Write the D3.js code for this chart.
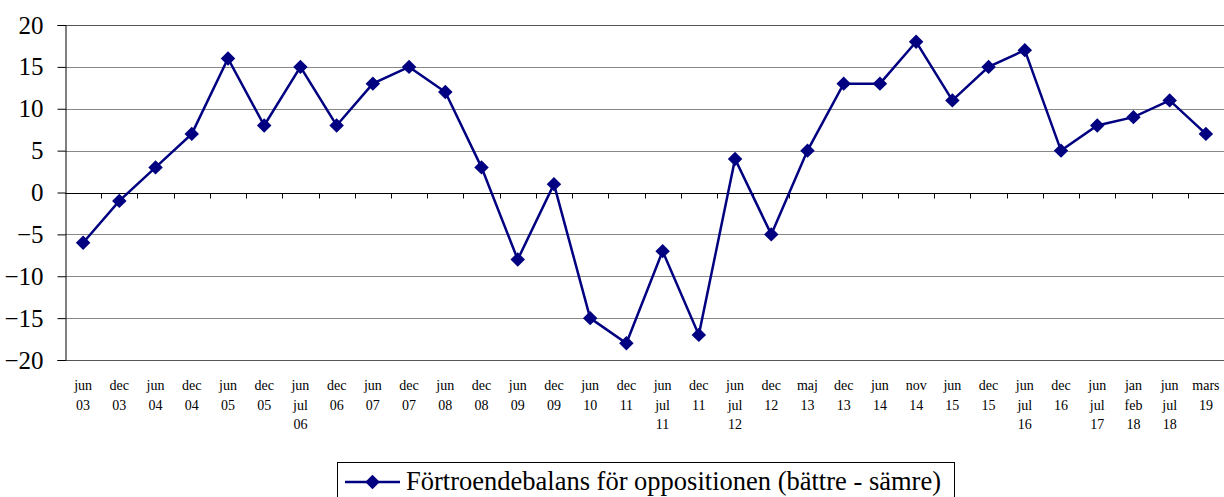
<!DOCTYPE html>
<html>
<head>
<meta charset="utf-8">
<script src="https://cdn.jsdelivr.net/npm/d3@7"></script>
<style>
  body { margin: 0; background: #fff; }
  svg { display: block; }
</style>
</head>
<body>
<svg id="chart" width="1224" height="497"></svg>
<script>
// category labels, each entry is the list of lines under the tick
const labels = [
  ["jun", "03"], ["dec", "03"], ["jun", "04"], ["dec", "04"], ["jun", "05"],
  ["dec", "05"], ["jun", "jul", "06"], ["dec", "06"], ["jun", "07"], ["dec", "07"],
  ["jun", "08"], ["dec", "08"], ["jun", "09"], ["dec", "09"], ["jun", "10"],
  ["dec", "11"], ["jun", "jul", "11"], ["dec", "11"], ["jun", "jul", "12"], ["dec", "12"],
  ["maj", "13"], ["dec", "13"], ["jun", "14"], ["nov", "14"], ["jun", "15"],
  ["dec", "15"], ["jun", "jul", "16"], ["dec", "16"], ["jun", "jul", "17"], ["jan", "feb", "18"],
  ["jun", "jul", "18"], ["mars", "19"]
];
const values = [-6, -1, 3, 7, 16, 8, 15, 8, 13, 15, 12, 3, -8, 1, -15, -18, -7, -17, 4, -5,
                5, 13, 13, 18, 11, 15, 17, 5, 8, 9, 11, 7];
const yTicks = [-20, -15, -10, -5, 0, 5, 10, 15, 20];
const seriesName = "Förtroendebalans för oppositionen (bättre - sämre)";

const svg = d3.select("#chart");
const plotLeft = 65, plotRight = 1224, plotTop = 25, plotBottom = 360;
const font = "Liberation Serif";
const navy = "#000080";

const x = d3.scaleBand()
    .domain(d3.range(values.length))
    .range([plotLeft, plotRight]);

const y = d3.scaleLinear()
    .domain([-20, 20])
    .range([plotBottom, plotTop]);

// gridlines
svg.append("g")
    .selectAll("line")
    .data(yTicks.filter(d => d !== 0))
    .join("line")
    .attr("x1", plotLeft)
    .attr("x2", plotRight)
    .attr("y1", d => Math.round(y(d)) + 0.5)
    .attr("y2", d => Math.round(y(d)) + 0.5)
    .attr("stroke", d => (d === 20 || d === -20) ? "#555" : "#888")
    .attr("stroke-width", 1);

// y axis
const yAxis = svg.append("g")
    .attr("transform", "translate(" + (plotLeft + 0.5) + ",0)")
    .call(d3.axisLeft(y).tickValues(yTicks).tickSize(8).tickPadding(14))
    .attr("font-family", font)
    .attr("font-size", 25);
yAxis.select(".domain").attr("stroke", "#000");
yAxis.selectAll(".tick line").attr("stroke", "#000");
yAxis.selectAll("text")
    .style("font-family", font)
    .style("font-size", "25px")
    .attr("fill", "#000");

// zero line with category ticks
const zeroY = Math.round(y(0)) + 0.5;
svg.append("line")
    .attr("x1", plotLeft)
    .attr("x2", plotRight)
    .attr("y1", zeroY)
    .attr("y2", zeroY)
    .attr("stroke", "#000");

svg.append("g")
    .selectAll("line")
    .data(d3.range(1, values.length))
    .join("line")
    .attr("x1", d => Math.round(x(d)) + 0.5)
    .attr("x2", d => Math.round(x(d)) + 0.5)
    .attr("y1", zeroY)
    .attr("y2", zeroY + 5)
    .attr("stroke", "#000");

// x labels
const lab = svg.append("g");
labels.forEach(function(lines, i) {
    const t = lab.append("text")
        .attr("text-anchor", "middle")
        .style("font-family", font)
        .style("font-size", "14px")
        .attr("fill", "#000");
    lines.forEach(function(s, k) {
        t.append("tspan")
            .attr("x", x(i) + x.bandwidth() / 2)
            .attr("y", 390 + k * 19.6)
            .text(s);
    });
});

// series line
const line = d3.line()
    .x((d, i) => x(i) + x.bandwidth() / 2)
    .y(d => y(d));

svg.append("path")
    .datum(values)
    .attr("d", line)
    .attr("fill", "none")
    .attr("stroke", navy)
    .attr("stroke-width", 2.5);

const diamond = d3.symbol().type(d3.symbolSquare).size(105);
svg.append("g")
    .selectAll("path")
    .data(values)
    .join("path")
    .attr("d", diamond)
    .attr("transform", (d, i) => "translate(" + (x(i) + x.bandwidth() / 2) + "," + y(d) + ") rotate(45)")
    .attr("fill", navy);

// legend
const lg = svg.append("g");
lg.append("rect")
    .attr("x", 337.5)
    .attr("y", 462.5)
    .attr("width", 617)
    .attr("height", 40)
    .attr("fill", "#fff")
    .attr("stroke", "#000");
lg.append("line")
    .attr("x1", 345)
    .attr("x2", 400)
    .attr("y1", 482)
    .attr("y2", 482)
    .attr("stroke", navy)
    .attr("stroke-width", 2.5);
lg.append("path")
    .attr("d", diamond)
    .attr("transform", "translate(372.5,482) rotate(45)")
    .attr("fill", navy);
lg.append("text")
    .attr("x", 406)
    .attr("y", 490)
    .style("font-family", font)
    .style("font-size", "26.5px")
    .attr("fill", "#000")
    .text(seriesName);
</script>
</body>
</html>
